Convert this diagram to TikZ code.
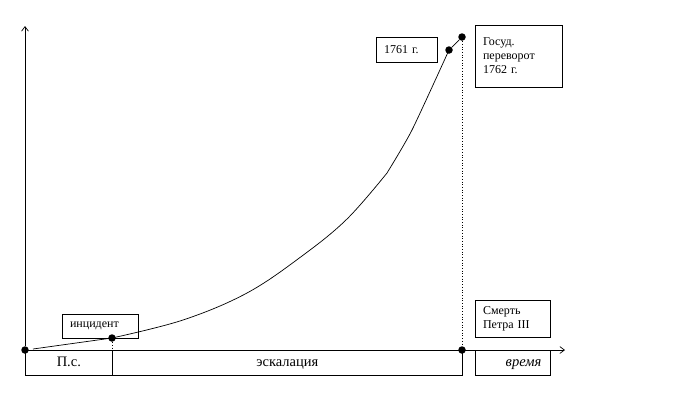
\documentclass[tikz,border=0pt]{standalone}
\usepackage{fontspec}
\setmainfont{Liberation Serif}
\usetikzlibrary{arrows.meta,positioning,calc}

\begin{document}
\begin{tikzpicture}[
  x=1pt, y=-1pt,
  line width=0.7pt,
  font=\fontsize{12}{14}\selectfont,
  pt/.style={circle, fill=black, inner sep=0pt, minimum size=7.5pt},
  lab/.style={draw, align=left, inner xsep=8pt, inner ysep=2pt},
  seg/.style={draw, anchor=north west, minimum height=25pt, inner sep=0pt,
              text height=10pt, text depth=3pt,
              font=\fontsize{14.5}{16}\selectfont},
  ax/.style={-{Straight Barb[length=1.6mm,width=2.4mm]}}
]
\useasboundingbox (0,0) rectangle (700,413);
% points on the axes and on the curve
\node[pt] (o)   at (25,350)  {};
\node[pt] (inc) at (112,338) {};
\node[pt] (end) at (462,350) {};
\node[pt] (p61) at (449,50)  {};
\node[pt] (p62) at (462,37)  {};
\coordinate (ytop) at (25,26);
\coordinate (xend) at (565,350);
% axes
\draw[ax] (o) -- (ytop);
\draw[ax] (o) -- (xend);
% curve
\draw (33,349) -- (inc.center)
  plot[smooth, tension=0.6] coordinates {(112,338) (183,320) (247,293) (302,256) (347,219) (387,173)}
  -- plot[smooth, tension=0.4] coordinates {(387,173) (412,130) (449,50)};
\draw (p61) -- (p62);
\draw[dotted] (inc) -- (inc |- o);
\draw[dotted] (p62) -- (end);
% labels
\node[lab, minimum width=76pt, minimum height=24pt, text width=60pt] (incbox) at (100,326) {инцидент};
\node[lab, minimum width=61pt, minimum height=25pt, text width=45pt] (b61) at (406.5,50) {1761 г.};
\node[lab, minimum width=87pt, minimum height=62pt, text width=71pt] (coup) at (518.5,56) {Госуд.\\переворот\\1762 г.};
\node[lab, minimum width=75pt, minimum height=37pt, text width=59pt] (death) at (512.5,318.5) {Смерть\\Петра III};
% time segments
\node[seg, minimum width=87pt] (ps) at (o.center) {П.с.};
\node[seg, minimum width=350pt] (esc) at (inc |- o) {эскалация};
\node[seg, minimum width=75pt, align=right, text width=57pt] (time) at (475,350) {\itshape время};
\end{tikzpicture}
\end{document}
